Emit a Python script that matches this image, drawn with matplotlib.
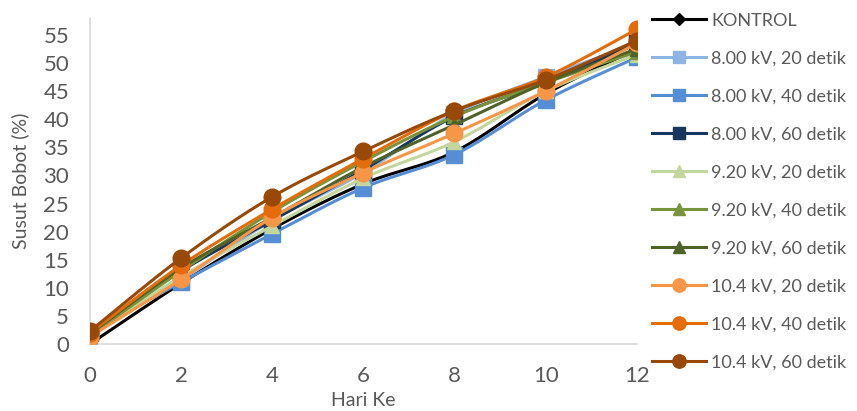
import numpy as np
import matplotlib.pyplot as plt
from matplotlib.lines import Line2D

plt.rcParams['font.family'] = ['Lato', 'DejaVu Sans']

# Hari pengamatan dan susut bobot (%) tiap perlakuan
hari = [0, 2, 4, 6, 8, 10, 12]

kontrol = [0.0, 10.8, 20.5, 28.5, 34.2, 44.5, 52.5]
kv800_20 = [2.0, 11.5, 22.0, 30.5, 41.0, 47.5, 53.5]
kv800_40 = [2.2, 11.0, 19.6, 27.8, 33.7, 43.4, 51.0]
kv800_60 = [2.0, 13.0, 22.0, 31.0, 40.5, 46.5, 53.5]
kv920_20 = [1.5, 12.0, 21.0, 29.5, 36.0, 45.0, 51.5]
kv920_40 = [1.5, 13.0, 23.5, 32.5, 40.5, 46.5, 52.0]
kv920_60 = [1.8, 13.5, 22.5, 31.5, 39.0, 46.5, 52.5]
kv104_20 = [1.3, 11.5, 22.5, 30.5, 37.5, 45.0, 53.5]
kv104_40 = [2.0, 14.0, 24.0, 33.0, 41.5, 47.5, 56.0]
kv104_60 = [2.3, 15.3, 26.2, 34.3, 41.5, 47.0, 54.0]

labels = ['KONTROL',
          '8.00 kV, 20 detik', '8.00 kV, 40 detik', '8.00 kV, 60 detik',
          '9.20 kV, 20 detik', '9.20 kV, 40 detik', '9.20 kV, 60 detik',
          '10.4 kV, 20 detik', '10.4 kV, 40 detik', '10.4 kV, 60 detik']
series = [kontrol, kv800_20, kv800_40, kv800_60, kv920_20, kv920_40,
          kv920_60, kv104_20, kv104_40, kv104_60]
colors = ['#000000', '#8DB4E2', '#558ED5', '#17375E',
          '#C3D69B', '#77933C', '#4F6228',
          '#F79646', '#E46C0A', '#984807']
markers = ['D', 's', 's', 's', '^', '^', '^', 'o', 'o', 'o']
msizes = [7, 11, 11, 11, 10, 10, 10, 12, 12, 12]


def smooth(x, y, n=30):
    # kurva halus ala Excel (Bezier dengan titik kontrol Catmull-Rom)
    x = np.asarray(x, float)
    y = np.asarray(y, float)
    px = np.concatenate([[x[0]], x, [x[-1]]])
    py = np.concatenate([[y[0]], y, [y[-1]]])
    t = np.linspace(0, 1, n)
    xs, ys = [], []
    for i in range(1, len(x)):
        p0 = np.array([px[i], py[i]])
        p3 = np.array([px[i + 1], py[i + 1]])
        c1 = p0 + (p3 - np.array([px[i - 1], py[i - 1]])) / 6
        c2 = p3 - (np.array([px[i + 2], py[i + 2]]) - p0) / 6
        b = (((1 - t) ** 3)[:, None] * p0 + (3 * (1 - t) ** 2 * t)[:, None] * c1
             + (3 * (1 - t) * t ** 2)[:, None] * c2 + (t ** 3)[:, None] * p3)
        xs.append(b[:, 0])
        ys.append(b[:, 1])
    return np.concatenate(xs), np.concatenate(ys)


fig = plt.figure(figsize=(8.57, 4.11), dpi=100)
ax = fig.add_axes([0.105, 0.163, 0.638, 0.793])

handles = []
for i, (vals, lab, c, m, ms) in enumerate(zip(series, labels, colors, markers, msizes)):
    sx, sy = smooth(hari, vals)
    ax.plot(sx, sy, color=c, lw=2.2, zorder=2 + i, solid_capstyle='round')
    ax.plot(hari, vals, ls='none', marker=m, ms=ms, color=c, zorder=2 + i)
    handles.append(Line2D([], [], color=c, lw=2.2, marker=m,
                          ms=ms * 0.8 if m != 'D' else 6))

ax.set_xlim(0, 12)
ax.set_ylim(0, 58)
ax.set_xticks(hari)
ax.set_yticks(range(0, 56, 5))
ax.tick_params(length=0, labelsize=16, colors='#595959')
ax.tick_params(axis='x', pad=16)
ax.tick_params(axis='y', pad=15)
for s in ['top', 'right']:
    ax.spines[s].set_visible(False)
for s in ['left', 'bottom']:
    ax.spines[s].set_color('#D9D9D9')
    ax.spines[s].set_linewidth(1.2)
ax.set_xlabel('Hari Ke', fontsize=14, color='#595959')
ax.xaxis.set_label_coords(0.5, -0.148)
ax.set_ylabel('Susut Bobot (%)', fontsize=14, color='#595959')
ax.yaxis.set_label_coords(-0.112, 0.5)
for lbl in ax.get_xticklabels() + ax.get_yticklabels():
    lbl.set_clip_on(False)

fig.legend(handles, labels, loc='upper left', bbox_to_anchor=(0.752, 0.987),
           frameon=False, fontsize=13, labelcolor='#595959', handlelength=3.0,
           handletextpad=0.3, labelspacing=1.22, borderaxespad=0)

fig.savefig('out.png', dpi=100)
